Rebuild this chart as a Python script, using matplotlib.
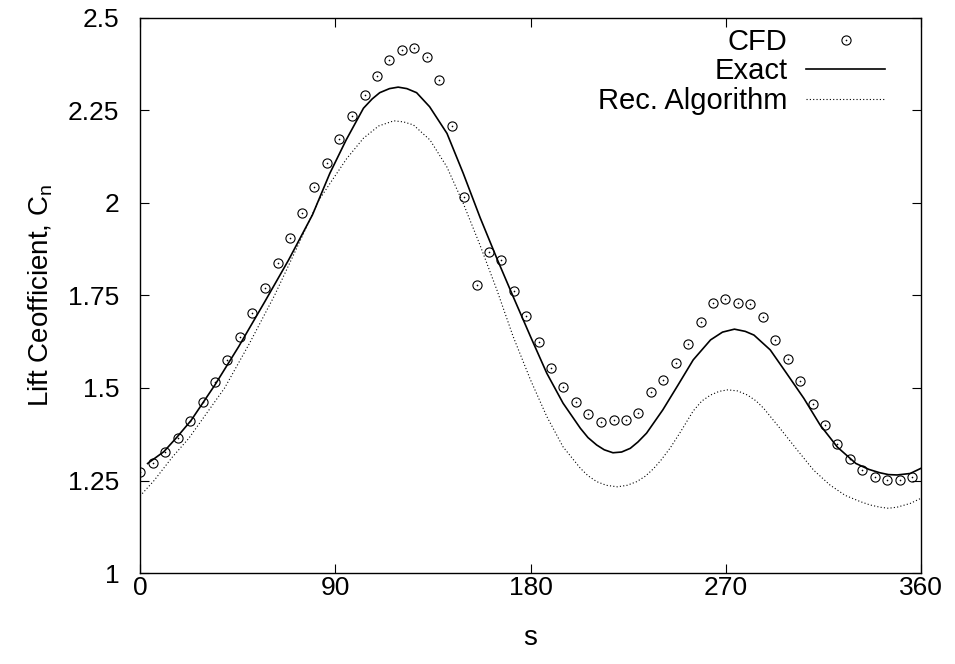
import numpy as np
import matplotlib
matplotlib.use('Agg')
import matplotlib.pyplot as plt

plt.rcParams['font.family'] = ['Liberation Sans', 'DejaVu Sans']
plt.rcParams['mathtext.fontset'] = 'custom'
plt.rcParams['mathtext.rm'] = 'Liberation Sans'
plt.rcParams['mathtext.it'] = 'Liberation Sans'

# CFD samples
s_cfd = [0, 5.9, 11.6, 17.4, 23.1, 29.0, 34.6, 40.3, 46.2, 51.8, 57.7, 63.4,
         69.1, 74.7, 80.4, 86.3, 91.9, 97.8, 103.5, 109.2, 115.0, 120.7, 126.5,
         132.2, 137.9, 143.6, 149.5, 155.3, 160.9, 166.6, 172.4, 178.0, 183.9,
         189.5, 195.2, 201.1, 206.7, 212.4, 218.3, 224.0, 229.6, 235.5, 241.2,
         246.9, 252.7, 258.4, 264.1, 269.8, 275.6, 281.3, 287.1, 292.8, 298.5,
         304.3, 310.0, 315.7, 321.5, 327.2, 332.9, 338.8, 344.4, 350.1, 356.0]
c_cfd = [1.274, 1.296, 1.328, 1.366, 1.411, 1.461, 1.516, 1.576, 1.638, 1.703,
         1.770, 1.837, 1.906, 1.974, 2.042, 2.108, 2.173, 2.234, 2.292, 2.343,
         2.385, 2.413, 2.420, 2.395, 2.332, 2.209, 2.016, 1.778, 1.867, 1.845,
         1.761, 1.695, 1.624, 1.554, 1.504, 1.461, 1.431, 1.409, 1.414, 1.413,
         1.432, 1.488, 1.521, 1.568, 1.620, 1.678, 1.729, 1.740, 1.729, 1.727,
         1.692, 1.631, 1.578, 1.520, 1.457, 1.399, 1.348, 1.307, 1.278, 1.259,
         1.251, 1.251, 1.259]

# exact solution
s_exact = [3.5, 11, 17, 23.5, 34.5, 45.5, 57.5, 68.5, 79.5, 87.5, 95, 103,
           107, 110.5, 115, 119, 123, 127.5, 133.5, 141.5, 149, 156.8, 164.5,
           172, 180, 187.5, 195, 203, 206.5, 210.5, 214, 218, 222, 226, 229.5,
           233.5, 241, 248, 255, 263, 268.5, 274, 279, 283, 290.5, 298, 306,
           313.5, 321.5, 330, 336, 341, 345, 349, 355, 360]
c_exact = [1.296, 1.328, 1.367, 1.412, 1.508, 1.612, 1.733, 1.846, 1.968, 2.080,
           2.170, 2.256, 2.281, 2.298, 2.309, 2.313, 2.309, 2.298, 2.260, 2.188,
           2.080, 1.960, 1.850, 1.747, 1.639, 1.540, 1.459, 1.391, 1.366, 1.346,
           1.333, 1.325, 1.327, 1.337, 1.354, 1.378, 1.441, 1.508, 1.576, 1.630,
           1.651, 1.659, 1.653, 1.643, 1.603, 1.540, 1.472, 1.400, 1.340, 1.296,
           1.280, 1.271, 1.266, 1.265, 1.269, 1.283]

# reconstruction algorithm
s_rec = [0, 6.5, 15, 22.5, 39, 50.5, 62, 72, 82.5, 87.6, 95.3, 103, 110, 117,
         121.5, 126, 133.7, 141.4, 149, 156.8, 164.5, 172, 180, 187.5, 195, 203,
         206.5, 210.5, 215, 220, 224.5, 229, 233, 236.7, 240, 244.4, 249, 255,
         259, 263, 267, 271, 275.5, 280, 284, 287.5, 295, 303, 310.5, 318, 325,
         332, 336.5, 341, 345, 349, 355, 360]
c_rec = [1.208, 1.250, 1.314, 1.364, 1.500, 1.621, 1.750, 1.875, 2.008, 2.053,
         2.120, 2.175, 2.208, 2.222, 2.219, 2.211, 2.170, 2.098, 1.999, 1.885,
         1.765, 1.639, 1.522, 1.423, 1.341, 1.283, 1.263, 1.247, 1.237, 1.233,
         1.237, 1.247, 1.262, 1.282, 1.304, 1.338, 1.380, 1.438, 1.465, 1.481,
         1.491, 1.495, 1.492, 1.481, 1.465, 1.445, 1.391, 1.332, 1.278, 1.238,
         1.210, 1.193, 1.184, 1.178, 1.175, 1.178, 1.188, 1.202]

xticks = [0, 90, 180, 270, 360]
yticks = [1, 1.25, 1.5, 1.75, 2, 2.25, 2.5]
ytick_labels = ['1', '1.25', '1.5', '1.75', '2', '2.25', '2.5']

fig = plt.figure(figsize=(9.55, 6.64), dpi=100)
ax = fig.add_axes([0.1466, 0.137, 0.8178, 0.836])

ring, = ax.plot(s_cfd, c_cfd, linestyle='none', marker='o', markersize=6.6,
                markerfacecolor='none', markeredgecolor='black', markeredgewidth=0.8)
dot, = ax.plot(s_cfd, c_cfd, linestyle='none', marker='o', markersize=1.2,
               markerfacecolor='black', markeredgecolor='black', markeredgewidth=0)
ex, = ax.plot(s_exact, c_exact, color='black', linewidth=1.2)
rec, = ax.plot(s_rec, c_rec, color='black', linewidth=0.8, linestyle=(0, (1, 2)))

ax.set_xlim(0, 360)
ax.set_ylim(1, 2.5)
ax.set_xticks(xticks)
ax.set_yticks(yticks)
ax.set_yticklabels(ytick_labels)
ax.tick_params(direction='in', length=6.5, width=0.8, top=True, right=True,
               labelsize=19)
ax.tick_params(axis='y', pad=15)
ax.tick_params(axis='x', pad=2)
for sp in ax.spines.values():
    sp.set_linewidth(1.0)

ax.set_xlabel('s', fontsize=20, labelpad=18)
ax.set_ylabel('Lift Ceofficient, C$_{\\rm n}$', fontsize=20, labelpad=9)

leg = ax.legend([(ring, dot), ex, rec], ['CFD', 'Exact', 'Rec. Algorithm'],
                loc='upper right', bbox_to_anchor=(0.954, 0.982), frameon=False,
                markerfirst=False, fontsize=21, handlelength=2.7,
                labelspacing=0.05, handletextpad=0.65, borderaxespad=0,
                borderpad=0)

fig.savefig('out.png', dpi=100)
